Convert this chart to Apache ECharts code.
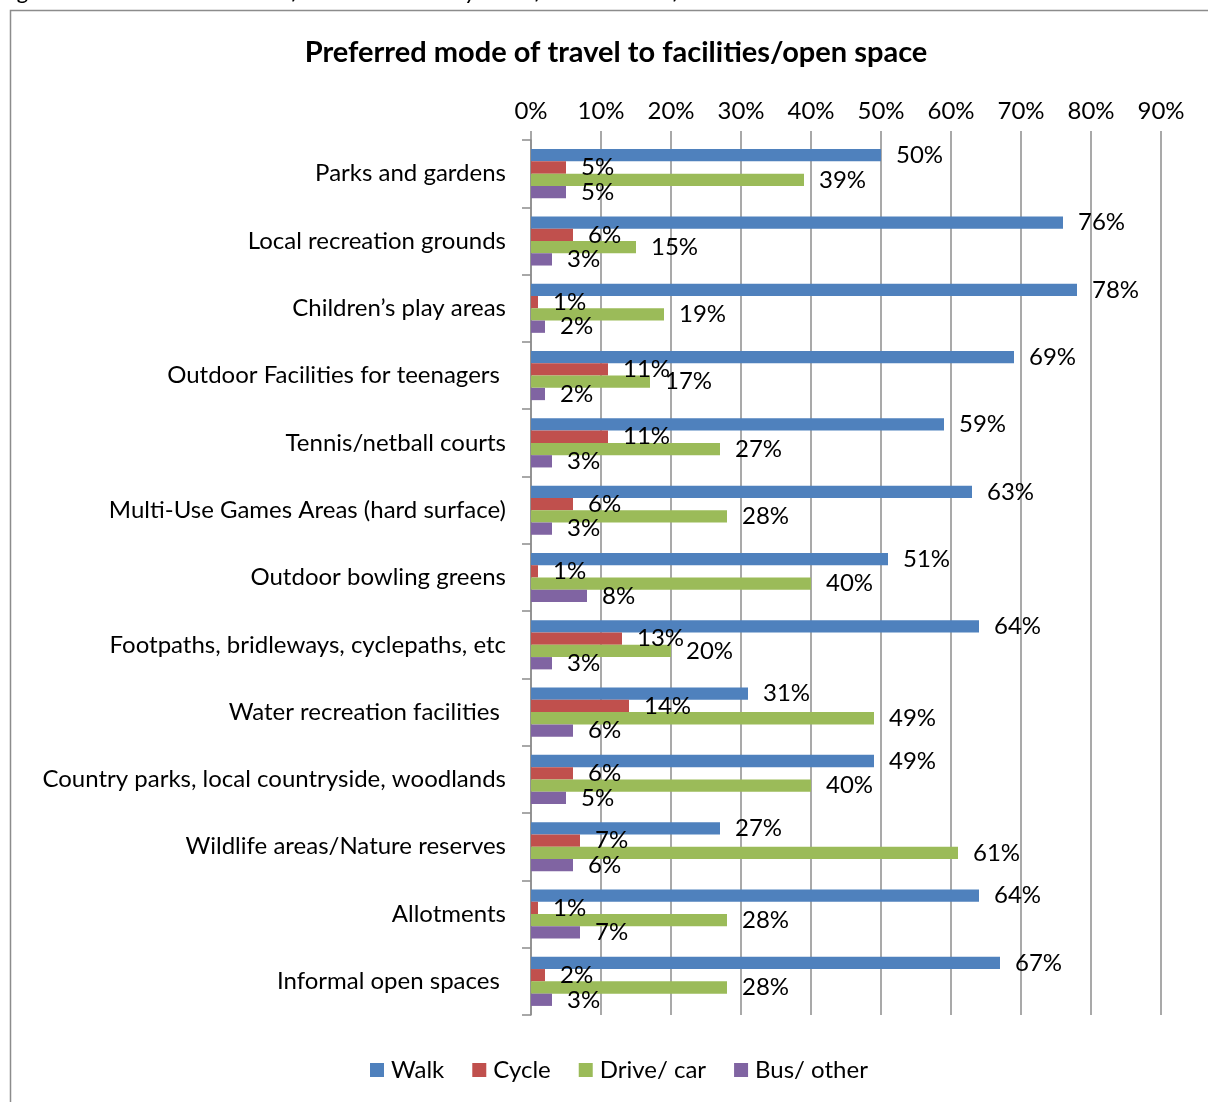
<!DOCTYPE html>
<html>
<head>
<meta charset="utf-8">
<script src="https://cdn.jsdelivr.net/npm/echarts@6/dist/echarts.min.js"></script>
<style>
  html, body { margin: 0; padding: 0; background: #fff; }
  #chart { width: 1208px; height: 1102px; }
</style>
</head>
<body>
<div id="chart"></div>
<script>
// Facilities / open space types, listed top to bottom
var categories = [
  'Parks and gardens',
  'Local recreation grounds',
  'Children\u2019s play areas',
  'Outdoor Facilities for teenagers ',
  'Tennis/netball courts',
  'Multi-Use Games Areas (hard surface)',
  'Outdoor bowling greens',
  'Footpaths, bridleways, cyclepaths, etc',
  'Water recreation facilities ',
  'Country parks, local countryside, woodlands',
  'Wildlife areas/Nature reserves',
  'Allotments',
  'Informal open spaces '
];

// Share of respondents (%) by preferred mode of travel
var walk  = [50, 76, 78, 69, 59, 63, 51, 64, 31, 49, 27, 64, 67];
var cycle = [5, 6, 1, 11, 11, 6, 1, 13, 14, 6, 7, 1, 2];
var drive = [39, 15, 19, 17, 27, 28, 40, 20, 49, 40, 61, 28, 28];
var bus   = [5, 3, 2, 2, 3, 3, 8, 3, 6, 5, 6, 7, 3];

var seriesNames = ['Walk', 'Cycle', 'Drive/ car', 'Bus/ other'];
var xTicks = [0, 10, 20, 30, 40, 50, 60, 70, 80, 90];

var FONT = 'Lato, "Open Sans", sans-serif';
var colors = ['#4F81BD', '#C0504D', '#9BBB59', '#8064A2'];

function barSeries(name, values, color) {
  return {
    name: name,
    type: 'bar',
    data: values,
    barGap: '0%',
    barCategoryGap: '27%',
    itemStyle: { color: color },
    label: {
      show: true,
      position: 'right',
      distance: 15,
      formatter: '{c}%',
      color: '#000',
      fontFamily: FONT,
      fontSize: 24
    }
  };
}

var chart = echarts.init(document.getElementById('chart'), null, { renderer: 'canvas' });
chart.setOption({
  animation: false,
  backgroundColor: '#fff',
  color: colors,
  title: {
    text: 'Preferred mode of travel to facilities/open space',
    left: 611,
    textAlign: 'center',
    top: 33,
    textStyle: { fontFamily: FONT, fontSize: 29, fontWeight: 'bold', color: '#000' }
  },
  graphic: [
    {
      type: 'rect',
      shape: { x: 10.5, y: 10.5, width: 1210, height: 1100 },
      style: { fill: 'none', stroke: '#8c8c8c', lineWidth: 1.5 },
      silent: true
    },
    {
      type: 'text',
      left: 0,
      top: -21,
      style: { text: 'Figure 7', font: 'italic 24px ' + FONT, fill: '#000' }
    },
    {
      type: 'text',
      left: 203,
      top: -21,
      style: { text: 'Results of household survey \u2013 Preferred mode of travel', font: 'italic 24px ' + FONT, fill: '#000' }
    }
  ],
  legend: {
    data: seriesNames,
    bottom: 15,
    left: 365,
    itemWidth: 14,
    itemHeight: 14,
    itemGap: 28,
    icon: 'rect',
    textStyle: { fontFamily: FONT, fontSize: 24, color: '#000', padding: [0, 0, 0, 2] }
  },
  grid: { left: 531, right: 47, top: 140, bottom: 87, containLabel: false },
  xAxis: {
    type: 'value',
    position: 'top',
    min: xTicks[0],
    max: xTicks[xTicks.length - 1],
    interval: 10,
    axisLine: { show: false },
    axisTick: { show: true, length: 9, lineStyle: { color: '#8c8c8c', width: 1.5 } },
    splitLine: { show: true, lineStyle: { color: '#8c8c8c', width: 1.5 } },
    axisLabel: {
      formatter: '{value}%',
      fontFamily: FONT,
      fontSize: 24,
      color: '#000',
      margin: 17
    }
  },
  yAxis: {
    type: 'category',
    data: categories,
    inverse: true,
    axisLine: { show: true, lineStyle: { color: '#8c8c8c', width: 1.5 } },
    axisTick: { show: true, length: 9, lineStyle: { color: '#8c8c8c', width: 1.5 } },
    axisLabel: {
      fontFamily: FONT,
      fontSize: 24,
      color: '#000',
      margin: 25
    }
  },
  series: [
    barSeries(seriesNames[0], walk, colors[0]),
    barSeries(seriesNames[1], cycle, colors[1]),
    barSeries(seriesNames[2], drive, colors[2]),
    barSeries(seriesNames[3], bus, colors[3])
  ]
});
</script>
</body>
</html>
